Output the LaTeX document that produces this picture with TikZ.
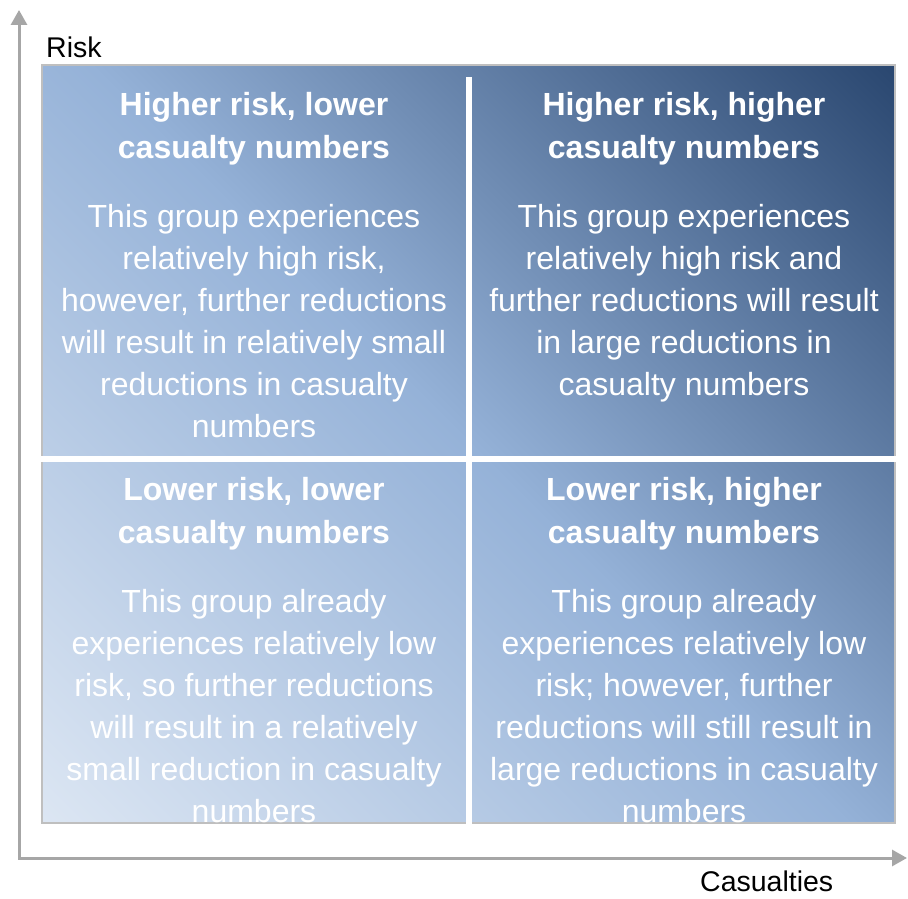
\documentclass[tikz,border=0pt]{standalone}
\usepackage{fontspec}
\setmainfont{Liberation Sans}
\usetikzlibrary{arrows.meta}
\definecolor{gLight}{HTML}{DCE6F3}
\definecolor{gMid}{HTML}{95B2D8}
\definecolor{gDark}{HTML}{2A4770}
\definecolor{axisgray}{HTML}{A6A6A6}
\pgfdeclareverticalshading{quadgrad}{100bp}{color(0bp)=(gLight); color(14.6bp)=(gLight); color(50bp)=(gMid); color(85.4bp)=(gDark); color(100bp)=(gDark)}
\tikzset{
  axisline/.style={draw=axisgray, line width=3pt, {Triangle[length=15pt,width=16pt]}-{Triangle[length=15pt,width=16pt]}},
  axislabel/.style={inner sep=0pt, font=\fontsize{28.5}{34}\selectfont, text=black},
  titletext/.style={inner sep=0pt, anchor=north, align=center, text=white, font=\fontsize{32}{43}\selectfont\bfseries},
  bodytext/.style={inner sep=0pt, anchor=north, align=center, text=white, font=\fontsize{32}{42}\selectfont},
  divider/.style={fill=white, draw=none}
}
\begin{document}
\begin{tikzpicture}[x=1pt,y=1pt]
\useasboundingbox[fill=white] (0,0) rectangle (908,898);
% gradient panel
\shade[shading=quadgrad, shading angle=-45] (42,75) rectangle (895,833);
\draw[draw=black!25, line width=1.2pt] (42,75) rectangle (895,833);
% dividers
\fill[divider] (41,436) rectangle (896,442);
\fill[divider] (466,74) rectangle (472,821);
% axes
\coordinate (ytip) at (19,888);
\coordinate (origin) at (19,40);
\coordinate (xtip) at (907,40);
\draw[axisline] (ytip) -- (origin) -- (xtip);
\node[axislabel, anchor=base west] (risk) at (46,840) {Risk};
\node[axislabel, anchor=base west] (cas) at (700,7) {Casualties};
% top-left
\node[titletext] (tlt) at (254,806) {Higher risk, lower\\casualty numbers};
\node[bodytext] (tlb) at (254,694) {This group experiences\\relatively high risk,\\however, further reductions\\will result in relatively small\\reductions in casualty\\numbers};
% top-right
\node[titletext] (trt) at (684,806) {Higher risk, higher\\casualty numbers};
\node[bodytext] (trb) at (684,694) {This group experiences\\relatively high risk and\\further reductions will result\\in large reductions in\\casualty numbers};
% bottom-left
\node[titletext] (blt) at (254,421) {Lower risk, lower\\casualty numbers};
\node[bodytext] (blb) at (254,309) {This group already\\experiences relatively low\\risk, so further reductions\\will result in a relatively\\small reduction in casualty\\numbers};
% bottom-right
\node[titletext] (brt) at (684,421) {Lower risk, higher\\casualty numbers};
\node[bodytext] (brb) at (684,309) {This group already\\experiences relatively low\\risk; however, further\\reductions will still result in\\large reductions in casualty\\numbers};
\end{tikzpicture}
\end{document}
